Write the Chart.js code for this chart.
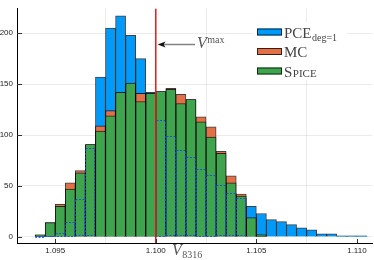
<!DOCTYPE html>
<html>
<head>
<meta charset="utf-8">
<script src="https://cdn.jsdelivr.net/npm/chart.js@4"></script>
<style>
  html, body { margin: 0; padding: 0; background: #fff; }
  #wrap { width: 374px; height: 260px; }
</style>
</head>
<body>
<div id="wrap"><canvas id="histChart"></canvas></div>
<script>
// histogram bins (centre of each 0.0005 wide bin)
const binCenters = [
  1.09425, 1.09475, 1.09525, 1.09575, 1.09625, 1.09675, 1.09725, 1.09775, 1.09825, 1.09875,
  1.09925, 1.09975, 1.10025, 1.10075, 1.10125, 1.10175, 1.10225, 1.10275, 1.10325, 1.10375,
  1.10425, 1.10475, 1.10525, 1.10575, 1.10625, 1.10675, 1.10725, 1.10775, 1.10825, 1.10875,
  1.10925, 1.10975, 1.11025
];
const pceCounts = [
  0, 1, 4, 15, 37, 87, 157, 205, 217, 198,
  175, 142, 115, 99, 85, 78, 67, 61, 51, 43,
  38, 30, 23, 17, 15, 12, 9, 7, 3, 3,
  1, 1, 1
];
const mcCounts = [
  2, 14, 32, 53, 65, 90, 109, 124, 141, 150,
  141, 140, 142, 146, 140, 134, 118, 108, 84, 60,
  42, 18, 2, 0, 0, 0, 0, 0, 0, 0,
  0, 0, 0
];
const spiceCounts = [
  2, 14, 30, 47, 63, 91, 104, 119, 142, 151,
  133, 141, 143, 145, 131, 135, 113, 98, 82, 53,
  40, 19, 2, 0, 0, 0, 0, 0, 0, 0,
  0, 0, 0
];
const xTickValues = [1.095, 1.100, 1.105, 1.110];
const yTickValues = [0, 50, 100, 150, 200];
const vMax = 1.100;

const BLUE = 'rgb(0,154,250)';
const ORANGE = 'rgb(227,111,71)';
const GREEN = 'rgb(62,164,78)';
const SERIF = '"Liberation Serif", "DejaVu Serif", serif';

const toPoints = arr => arr.map((v, i) => ({ x: binCenters[i], y: v }));

// text with a sub/superscript part
function drawScripted(ctx, x, y, main, script, mainSize, scriptSize, dy, italic) {
    ctx.font = (italic ? 'italic ' : '') + mainSize + 'px ' + SERIF;
    ctx.fillText(main, x, y);
    const w = ctx.measureText(main).width;
    ctx.font = scriptSize + 'px ' + SERIF;
    ctx.fillText(script, x + w + 0.5, y + dy);
}

const overlayPlugin = {
    id: 'overlay',
    afterDatasetsDraw(chart) {
        const { ctx, chartArea } = chart;
        const x = chart.scales.x, y = chart.scales.y;

        // dashed outline of PCE bars hidden behind the Spice bars
        const pceMeta = chart.getDatasetMeta(0);
        ctx.save();
        ctx.setLineDash([2, 1.5]);
        ctx.strokeStyle = 'rgba(25,70,235,0.85)';
        ctx.lineWidth = 1;
        pceMeta.data.forEach((bar, i) => {
            if (pceCounts[i] >= spiceCounts[i]) return;
            const left = Math.round(bar.x - bar.width / 2) + 0.5;
            ctx.strokeRect(left, Math.round(bar.y) + 0.5, Math.round(bar.width) - 1, Math.round(bar.base - bar.y) - 1);
        });
        ctx.restore();

        // V max line
        const vx = x.getPixelForValue(vMax);
        ctx.save();
        ctx.strokeStyle = 'rgb(228,26,28)';
        ctx.lineWidth = 1.5;
        ctx.beginPath();
        ctx.moveTo(vx, chartArea.top);
        ctx.lineTo(vx, chartArea.bottom);
        ctx.stroke();

        // arrow + label
        const ay = y.getPixelForValue(189);
        const ax0 = x.getPixelForValue(1.10195);
        const tip = vx + 1.8;
        ctx.strokeStyle = 'rgb(130,130,130)';
        ctx.lineWidth = 1.5;
        ctx.beginPath();
        ctx.moveTo(ax0, ay);
        ctx.lineTo(tip + 5, ay);
        ctx.stroke();
        ctx.fillStyle = '#111';
        ctx.beginPath();
        ctx.moveTo(tip, ay);
        ctx.lineTo(tip + 8, ay - 3);
        ctx.lineTo(tip + 6, ay);
        ctx.lineTo(tip + 8, ay + 3);
        ctx.closePath();
        ctx.fill();

        ctx.fillStyle = '#555';
        ctx.textBaseline = 'alphabetic';
        ctx.textAlign = 'left';
        drawScripted(ctx, ax0 + 2, ay + 4, 'V', 'max', 16, 10, -5, true);
        ctx.restore();
    },
    afterDraw(chart) {
        const { ctx, chartArea } = chart;
        const x = chart.scales.x, y = chart.scales.y;
        ctx.save();

        // inward tick marks
        ctx.strokeStyle = '#333';
        ctx.lineWidth = 1;
        ctx.beginPath();
        xTickValues.forEach(v => {
            const px = Math.round(x.getPixelForValue(v)) + 0.5;
            ctx.moveTo(px, chartArea.bottom);
            ctx.lineTo(px, chartArea.bottom - 4);
        });
        yTickValues.forEach(v => {
            const py = Math.round(y.getPixelForValue(v)) + 0.5;
            ctx.moveTo(chartArea.left, py);
            ctx.lineTo(chartArea.left + 5, py);
        });
        ctx.stroke();

        // legend
        const items = [
            { color: BLUE, main: 'PCE', sub: 'deg=1' },
            { color: ORANGE, main: 'MC' },
            { color: GREEN, main: 'S', caps: 'PICE' }
        ];
        ctx.fillStyle = '#fff';
        ctx.fillRect(253, 22, 94, 58);
        items.forEach((it, i) => {
            const top = 28.5 + i * 19.5;
            ctx.fillStyle = it.color;
            ctx.fillRect(257, top, 25, 7);
            ctx.strokeStyle = 'rgba(0,0,0,0.75)';
            ctx.strokeRect(257.5, top + 0.5, 24, 6);
            ctx.fillStyle = '#444';
            ctx.textAlign = 'left';
            ctx.textBaseline = 'alphabetic';
            const base = top + 9;
            if (it.sub) {
                drawScripted(ctx, 284, base, it.main, it.sub, 15, 10, 3, false);
            } else if (it.caps) {
                drawScripted(ctx, 284, base, it.main, it.caps, 15, 11, 0, false);
            } else {
                ctx.font = '15px ' + SERIF;
                ctx.fillText(it.main, 284, base);
            }
        });

        // x axis title
        ctx.fillStyle = '#555';
        drawScripted(ctx, 172, 255, 'V', '8316', 16, 10, 3, true);
        ctx.restore();
    }
};

const ctx = document.getElementById('histChart').getContext('2d');

window.myChart = new Chart(ctx, {
    type: 'bar',
    data: {
        datasets: [
            { label: 'PCE', data: toPoints(pceCounts), backgroundColor: BLUE, order: 2 },
            { label: 'MC', data: toPoints(mcCounts), backgroundColor: ORANGE, order: 1 },
            { label: 'Spice', data: toPoints(spiceCounts), backgroundColor: GREEN, order: 0 }
        ]
    },
    options: {
        responsive: true,
        maintainAspectRatio: false,
        animation: false,
        datasets: {
            bar: {
                grouped: false,
                barPercentage: 1,
                categoryPercentage: 1,
                borderWidth: 1,
                borderColor: 'rgba(0,0,0,0.75)'
            }
        },
        layout: { padding: { left: 0, right: 2, top: 0, bottom: 0 } },
        plugins: {
            legend: { display: false },
            tooltip: { enabled: false }
        },
        scales: {
            x: {
                type: 'linear',
                offset: false,
                min: 1.0931,
                max: 1.11075,
                afterBuildTicks: s => { s.ticks = xTickValues.map(v => ({ value: v })); },
                afterFit: s => { s.height = 17; },
                ticks: {
                    padding: 3,
                    maxRotation: 0,
                    color: '#222',
                    font: { family: '"Liberation Sans", Arial, sans-serif', size: 8 },
                    callback: v => v.toFixed(3)
                },
                grid: { color: 'rgba(0,0,0,0.08)', drawTicks: false },
                border: { display: true, color: '#000', width: 1 }
            },
            y: {
                min: -6,
                max: 224,
                afterBuildTicks: s => { s.ticks = yTickValues.map(v => ({ value: v })); },
                afterFit: s => { s.width = 17; },
                ticks: {
                    padding: 4,
                    color: '#222',
                    font: { family: '"Liberation Sans", Arial, sans-serif', size: 8 }
                },
                grid: { color: 'rgba(0,0,0,0.08)', drawTicks: false },
                border: { display: true, color: '#000', width: 1 }
            }
        }
    },
    plugins: [overlayPlugin]
});
</script>
</body>
</html>
